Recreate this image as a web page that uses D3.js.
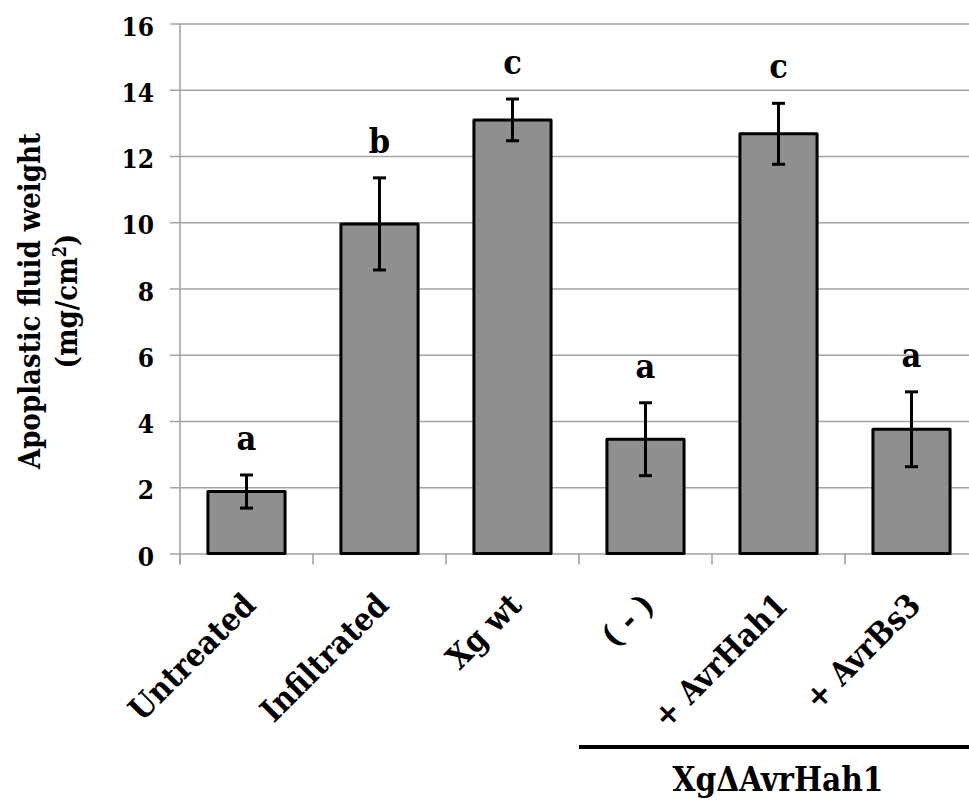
<!DOCTYPE html>
<html>
<head>
<meta charset="utf-8">
<script src="https://cdn.jsdelivr.net/npm/d3@7"></script>
<style>
  html, body { margin: 0; padding: 0; background: #fff; }
  svg { display: block; }
  text { font-family: "DejaVu Serif", "Liberation Serif", serif; font-weight: bold; font-stretch: condensed; fill: #000; }
</style>
</head>
<body>
<svg id="chart" width="969" height="802"></svg>
<script>
const categories = ["Untreated", "Infiltrated", "Xg wt", "( - )", "+ AvrHah1", "+ AvrBs3"];
const values = [1.87, 9.95, 13.09, 3.45, 12.67, 3.75];
const errors = [0.50, 1.39, 0.63, 1.10, 0.92, 1.13];
const letters = ["a", "b", "c", "a", "c", "a"];
const yTicks = [0, 2, 4, 6, 8, 10, 12, 14, 16];
const groupLabel = "XgΔAvrHah1";
const groupMembers = ["( - )", "+ AvrHah1", "+ AvrBs3"];
const yTitle = ["Apoplastic fluid weight", "(mg/cm", "2", ")"];

const W = 969, H = 802;
const svg = d3.select("#chart");

const x = d3.scaleBand().domain(categories).range([180, 978]).paddingInner(0.42).paddingOuter(0.21);
const y = d3.scaleLinear().domain([0, 16]).range([553.5, 23.5]);

const gridColor = "#a3a3a3";

// gridlines + y ticks
const yAxis = d3.axisLeft(y).tickValues(yTicks).tickSize(-(W - 180)).tickSizeOuter(0).tickPadding(0).tickFormat(d3.format("d"));
const gy = svg.append("g").attr("transform", "translate(180,0)").call(yAxis);
gy.select(".domain").remove();
gy.selectAll(".tick line").attr("x1", -10).attr("x2", W - 180).attr("stroke", gridColor).attr("stroke-width", 1.6);
gy.selectAll(".tick text").attr("x", -26).attr("dy", "0.45em").style("font-size", "26px");

// y axis vertical line
svg.append("line").attr("x1", 180).attr("x2", 180).attr("y1", y(16)).attr("y2", y(0) + 11)
  .attr("stroke", gridColor).attr("stroke-width", 1.6);

// x category ticks at band boundaries
const step = x.step();
const boundaries = categories.map((c, i) => x(c) - (step - x.bandwidth()) / 2);
svg.append("g").selectAll("line").data(boundaries).join("line")
  .attr("x1", d => d).attr("x2", d => d).attr("y1", y(0)).attr("y2", y(0) + 11)
  .attr("stroke", gridColor).attr("stroke-width", 1.6);

// bars
svg.append("g").selectAll("rect").data(categories).join("rect")
  .attr("x", d => x(d)).attr("width", x.bandwidth())
  .attr("y", (d, i) => y(values[i])).attr("height", (d, i) => y(0) - y(values[i]))
  .attr("fill", "#8f8f8f").attr("stroke", "#000").attr("stroke-width", 3).attr("stroke-linejoin", "round");

// error bars
const eg = svg.append("g").attr("stroke", "#000").attr("stroke-width", 3);
categories.forEach((c, i) => {
  const cx = x(c) + x.bandwidth() / 2;
  const top = y(values[i] + errors[i]), bot = y(values[i] - errors[i]);
  eg.append("line").attr("x1", cx).attr("x2", cx).attr("y1", top).attr("y2", bot);
  eg.append("line").attr("x1", cx - 6.5).attr("x2", cx + 6.5).attr("y1", top).attr("y2", top);
  eg.append("line").attr("x1", cx - 6.5).attr("x2", cx + 6.5).attr("y1", bot).attr("y2", bot);
});

// significance letters
svg.append("g").selectAll("text").data(categories).join("text")
  .attr("x", d => x(d) + x.bandwidth() / 2)
  .attr("y", (d, i) => y(values[i] + errors[i]) - 25)
  .attr("text-anchor", "middle").style("font-size", "34px")
  .text((d, i) => letters[i]);

// x labels rotated
svg.append("g").selectAll("text").data(categories).join("text")
  .attr("transform", d => `translate(${x(d) + x.bandwidth() / 2 + 11},607) rotate(-45)`)
  .attr("text-anchor", "end").style("font-size", "32px")
  .text(d => d);

// group bracket
const gx0 = boundaries[categories.indexOf(groupMembers[0])];
svg.append("line").attr("x1", gx0).attr("x2", W).attr("y1", 747).attr("y2", 747)
  .attr("stroke", "#000").attr("stroke-width", 4);
svg.append("text").attr("x", 778).attr("y", 791).attr("text-anchor", "middle")
  .style("font-size", "33px").text(groupLabel);

// y title
const yt = svg.append("g").attr("transform", "translate(0,301) rotate(-90)");
yt.append("text").attr("x", 0).attr("y", 40).attr("text-anchor", "middle").style("font-size", "29px").text(yTitle[0]);
const t2 = yt.append("text").attr("x", 0).attr("y", 77).attr("text-anchor", "middle").style("font-size", "29px");
t2.append("tspan").text(yTitle[1]);
t2.append("tspan").attr("dy", -11).style("font-size", "18px").text(yTitle[2]);
t2.append("tspan").attr("dy", 11).text(yTitle[3]);
</script>
</body>
</html>
